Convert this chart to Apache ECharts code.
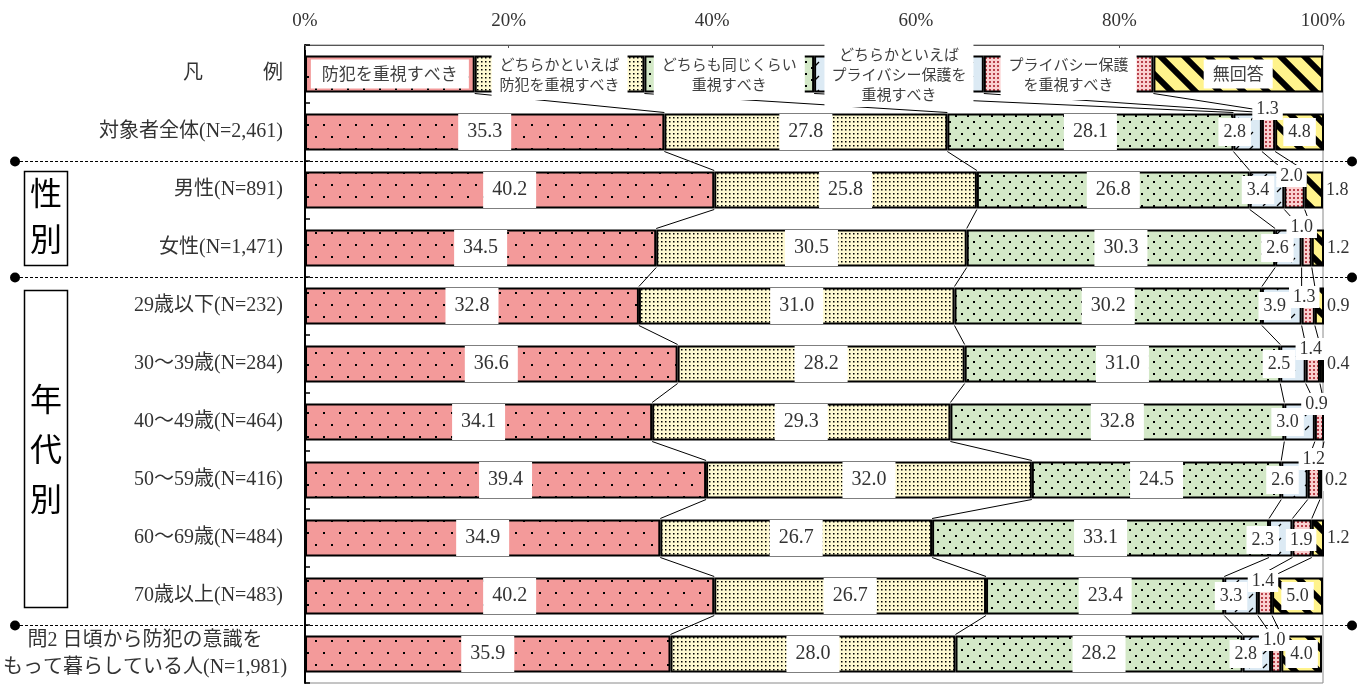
<!DOCTYPE html>
<html>
<head>
<meta charset="utf-8">
<script src="https://cdn.jsdelivr.net/npm/echarts@6/dist/echarts.min.js"></script>
<style>
  html, body { margin: 0; padding: 0; background: #fff; }
  #chart { width: 1368px; height: 684px; }
</style>
</head>
<body>
<div id="chart"></div>
<script>
// Row labels (first row is the key row "凡例")
const categories = [
  '凡　　　例',
  '対象者全体(N=2,461)',
  '男性(N=891)',
  '女性(N=1,471)',
  '29歳以下(N=232)',
  '30～39歳(N=284)',
  '40～49歳(N=464)',
  '50～59歳(N=416)',
  '60～69歳(N=484)',
  '70歳以上(N=483)',
  '問2 日頃から防犯の意識を\nもって暮らしている人(N=1,981)'
];

const seriesNames = [
  '防犯を重視すべき',
  'どちらかといえば防犯を重視すべき',
  'どちらも同じくらい重視すべき',
  'どちらかといえばプライバシー保護を重視すべき',
  'プライバシー保護を重視すべき',
  '無回答'
];

// Text shown inside the key row
const keyTexts = [
  '防犯を重視すべき',
  'どちらかといえば\n防犯を重視すべき',
  'どちらも同じくらい\n重視すべき',
  'どちらかといえば\nプライバシー保護を\n重視すべき',
  'プライバシー保護\nを重視すべき',
  '無回答'
];
// The key row is split into six equal parts
const keyShares = [16.67, 16.67, 16.67, 16.67, 16.66, 16.66];

// Percentages, one array per answer (rows: 全体, 男性, 女性, 29歳以下 … 70歳以上, 問2)
const bouhanJushi      = [35.3, 40.2, 34.5, 32.8, 36.6, 34.1, 39.4, 34.9, 40.2, 35.9];
const dochirakaBouhan  = [27.8, 25.8, 30.5, 31.0, 28.2, 29.3, 32.0, 26.7, 26.7, 28.0];
const dochiramoOnaji   = [28.1, 26.8, 30.3, 30.2, 31.0, 32.8, 24.5, 33.1, 23.4, 28.2];
const dochirakaPrivacy = [2.8, 3.4, 2.6, 3.9, 2.5, 3.0, 2.6, 2.3, 3.3, 2.8];
const privacyJushi     = [1.3, 2.0, 1.0, 1.3, 1.4, 0.9, 1.2, 1.9, 1.4, 1.0];
const muKaitou         = [4.8, 1.8, 1.2, 0.9, 0.4, 0.0, 0.2, 1.2, 5.0, 4.0];

const axisTicks = [0, 20, 40, 60, 80, 100];

const seriesValues = [bouhanJushi, dochirakaBouhan, dochiramoOnaji, dochirakaPrivacy, privacyJushi, muKaitou];

// Label nudges for the narrow segments (pixels)
const leanPrivacyLabelShift = [[-13, 0], [-9, 0], [-11, 0], [-7, 0], [-14, 0], [-12, 0], [-12, 0], [-18, 2], [-10, 0], [-11, 0]];
const privacyLabelShift = [[-1, -23], [-3, -14], [-5, -21], [-4, -9], [-2, -15], [-3, -18], [0, -21], [-1, 2], [-2, -15], [-2, -14]];

const SERIF = '"Liberation Serif", "DejaVu Serif", serif';
const JP = '"Liberation Serif", "Noto Sans CJK JP", sans-serif';
const BAR_W = 37;

// ---- fill patterns ----
function makePattern(w, h, bg, draw) {
  const c = document.createElement('canvas');
  c.width = w; c.height = h;
  const ctx = c.getContext('2d');
  ctx.fillStyle = bg;
  ctx.fillRect(0, 0, w, h);
  draw(ctx);
  return { image: c, repeat: 'repeat' };
}
const patterns = [
  makePattern(16, 24, '#F39A9A', ctx => {
    ctx.fillStyle = '#000';
    ctx.fillRect(3, 4, 2, 2);
    ctx.fillRect(11, 16, 2, 2);
  }),
  makePattern(4, 4, '#FFFAD2', ctx => {
    ctx.fillStyle = '#000';
    ctx.fillRect(1, 1, 1.5, 1.5);
  }),
  makePattern(12, 12, '#D3E8C7', ctx => {
    ctx.fillStyle = '#000';
    ctx.fillRect(1, 1, 2, 2);
    ctx.fillRect(7, 7, 2, 2);
  }),
  makePattern(14, 14, '#DCEAF4', ctx => {
    ctx.strokeStyle = '#000';
    ctx.lineWidth = 1.3;
    ctx.beginPath();
    ctx.moveTo(3, 10); ctx.lineTo(7, 6);
    ctx.stroke();
  }),
  makePattern(4, 4, '#FAD0D0', ctx => {
    ctx.fillStyle = '#B8404A';
    ctx.fillRect(1, 1, 2, 2);
  }),
  makePattern(24, 24, '#FFF38C', ctx => {
    ctx.strokeStyle = '#000';
    ctx.lineWidth = 6;
    ctx.beginPath();
    for (const c of [-24, 0, 24]) {
      ctx.moveTo(c - 4, -4);
      ctx.lineTo(c + 28, 28);
    }
    ctx.stroke();
  })
];

// Rows including the key row, used for the connector lines
const allRows = [keyShares].concat(bouhanJushi.map((_, r) => seriesValues.map(s => s[r])));
function cumAt(row, b) {
  let s = 0;
  for (let k = 0; k < b; k++) s += allRows[row][k];
  return s;
}

const numLabelBase = {
  show: true,
  position: 'inside',
  fontFamily: SERIF,
  fontSize: 20,
  color: '#333',
  backgroundColor: '#fff',
  padding: [8, 9],
  formatter: p => Number(p.value).toFixed(1)
};

function keyLabel(s) {
  const base = {
    show: true,
    position: 'inside',
    formatter: keyTexts[s],
    fontFamily: '"Noto Sans CJK JP", sans-serif',
    color: '#404040',
    backgroundColor: '#fff',
    align: 'center'
  };
  if (s === 0) return Object.assign(base, { fontSize: 17, lineHeight: 17, padding: [6, 11] });
  if (s === 5) return Object.assign(base, { fontSize: 17, lineHeight: 17, padding: [6, 9] });
  return Object.assign(base, { fontSize: 15, lineHeight: 20, padding: s === 3 ? [3, 7] : [6, 8] });
}

function rowLabel(s, r, v) {
  if (s <= 2) return {};
  const small = { fontSize: 18, padding: [5, 5] };
  if (s === 3) return Object.assign(small, { offset: leanPrivacyLabelShift[r] });
  if (s === 4) return Object.assign(small, { offset: privacyLabelShift[r], padding: [2, 4] });
  if (v >= 3) return small;
  return Object.assign(small, { position: 'right', distance: 1, padding: [2, 2] });
}

const barSeries = seriesValues.map((vals, s) => ({
  type: 'bar',
  name: seriesNames[s],
  stack: 'total',
  barWidth: BAR_W,
  z: 2,
  itemStyle: { color: patterns[s], borderColor: '#000', borderWidth: 2 },
  label: numLabelBase,
  data: [{ value: keyShares[s], label: keyLabel(s) }].concat(
    vals.map((v, r) => ({ value: v, label: rowLabel(s, r, v) }))
  )
}));

// Lines joining matching segment edges of neighbouring bars
const connectorSeries = {
  type: 'custom',
  z: 1,
  silent: true,
  encode: { x: 0, y: 1 },
  data: categories.slice(0, -1).map((_, i) => [0, i]),
  renderItem: (params, api) => {
    const i = api.value(1);
    const half = BAR_W / 2 + 1;
    const children = [];
    for (let b = 1; b <= 5; b++) {
      const p1 = api.coord([cumAt(i, b), i]);
      const p2 = api.coord([cumAt(i + 1, b), i + 1]);
      children.push({
        type: 'line',
        shape: { x1: p1[0], y1: p1[1] + half, x2: p2[0], y2: p2[1] - half },
        style: { stroke: '#000', lineWidth: 1 }
      });
    }
    return { type: 'group', children };
  }
};

// Dotted group separators with round ends
const separatorSeries = {
  type: 'custom',
  z: 1,
  silent: true,
  clip: false,
  encode: { x: 0, y: 1 },
  data: [[0, 1], [0, 3], [0, 9]],
  renderItem: (params, api) => {
    const i = api.value(1);
    const a = api.coord([0, i]);
    const b = api.coord([100, i + 1]);
    const y = Math.round((a[1] + b[1]) / 2) + 0.5;
    const x1 = a[0] - 290, x2 = b[0] + 29;
    return {
      type: 'group',
      children: [
        { type: 'line', shape: { x1, y1: y, x2, y2: y }, style: { stroke: '#000', lineWidth: 1, lineDash: [3, 2] } },
        { type: 'circle', shape: { cx: x1, cy: y, r: 5 }, style: { fill: '#000' } },
        { type: 'circle', shape: { cx: x2, cy: y, r: 5 }, style: { fill: '#000' } }
      ]
    };
  }
};

const chart = echarts.init(document.getElementById('chart'), null, { renderer: 'canvas' });
chart.setOption({
  animation: false,
  backgroundColor: '#fff',
  grid: { left: 304, right: 45, top: 45, bottom: 1, show: true, borderColor: '#8a8a8a', borderWidth: 1, backgroundColor: 'transparent' },
  xAxis: {
    type: 'value',
    position: 'top',
    min: axisTicks[0],
    max: axisTicks[axisTicks.length - 1],
    interval: axisTicks[1] - axisTicks[0],
    axisLine: { show: true, lineStyle: { color: '#555', width: 1 } },
    axisTick: { show: true, inside: true, length: 5, lineStyle: { color: '#555' } },
    splitLine: { show: false },
    axisLabel: { formatter: '{value}%', fontFamily: SERIF, fontSize: 19, color: '#333', margin: 14 }
  },
  yAxis: {
    type: 'category',
    inverse: true,
    data: categories,
    axisLine: { show: true, lineStyle: { color: '#000', width: 2 } },
    axisTick: { show: true, inside: true, length: 5, lineStyle: { color: '#000', width: 1.5 } },
    axisLabel: {
      fontFamily: JP,
      fontSize: 20,
      color: '#333',
      margin: 22,
      formatter: (v, i) => i === categories.length - 1
        ? v.split('\n').map(t => '{c|' + t + '}').join('\n')
        : v,
      rich: { c: { width: 276, align: 'center', fontFamily: JP, fontSize: 20, lineHeight: 27, color: '#333' } }
    }
  },
  graphic: [
    { type: 'rect', shape: { x: 24.5, y: 171.5, width: 43, height: 94 }, style: { fill: '#fff', stroke: '#000', lineWidth: 1.5 } },
    { type: 'text', x: 46, y: 216, style: { text: '性\n別', fontFamily: '"Noto Sans CJK JP", sans-serif', fontSize: 32, lineHeight: 46, fill: '#000', align: 'center', verticalAlign: 'middle' } },
    { type: 'rect', shape: { x: 24.5, y: 290.5, width: 43, height: 317 }, style: { fill: '#fff', stroke: '#000', lineWidth: 1.5 } },
    { type: 'text', x: 46, y: 449, style: { text: '年\n代\n別', fontFamily: '"Noto Sans CJK JP", sans-serif', fontSize: 32, lineHeight: 50, fill: '#000', align: 'center', verticalAlign: 'middle' } }
  ],
  series: [connectorSeries, separatorSeries].concat(barSeries)
});
</script>
</body>
</html>
